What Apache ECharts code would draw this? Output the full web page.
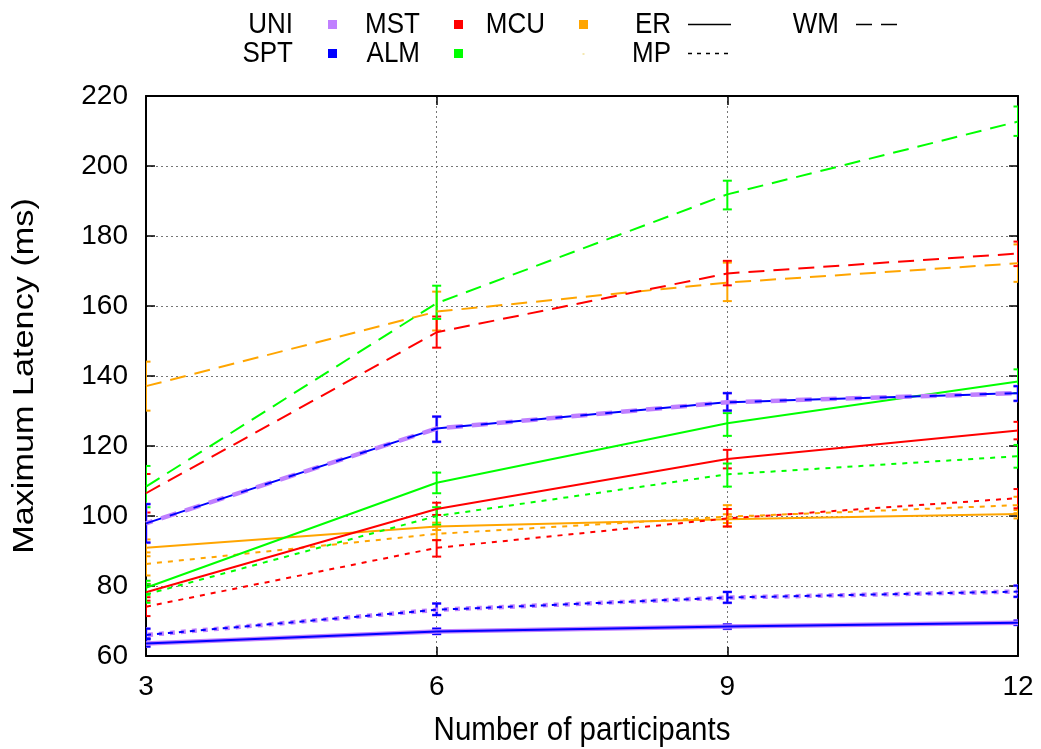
<!DOCTYPE html>
<html>
<head>
<meta charset="utf-8">
<script src="https://cdn.jsdelivr.net/npm/echarts@6/dist/echarts.min.js"></script>
<style>
html,body{margin:0;padding:0;background:#fff;}
#chart{width:1041px;height:749px;}
</style>
</head>
<body>
<div id="chart"></div>
<script>
// ---- data ----
const participants = [3, 6, 9, 12];
const xTicks = [3, 6, 9, 12];
const yTicks = [60, 80, 100, 120, 140, 160, 180, 200, 220];
const xTitle = 'Number of participants';
const yTitle = 'Maximum Latency (ms)';

const algorithms = ['UNI', 'SPT', 'MST', 'ALM', 'MCU'];
const modes = ['ER', 'WM', 'MP'];

// ER (solid)
const UNI_ER = [63.6, 67.0, 68.4, 69.5];
const SPT_ER = [63.6, 67.0, 68.4, 69.5];
const MST_ER = [78.2, 102.0, 116.3, 124.4];
const ALM_ER = [79.5, 109.5, 126.5, 138.4];
const MCU_ER = [90.9, 97.0, 99.1, 100.6];
const UNI_ER_err = [[62.7, 64.8], [66.3, 67.8], [67.8, 69.0], [68.9, 70.1]];
const SPT_ER_err = [[62.7, 64.8], [66.3, 67.8], [67.8, 69.0], [68.9, 70.1]];
const MST_ER_err = [[75.8, 80.6], [100.3, 103.8], [113.6, 118.9], [121.9, 126.9]];
const ALM_ER_err = [[77.5, 81.5], [106.5, 112.4], [122.9, 129.4], [135.1, 141.9]];
const MCU_ER_err = [[88.5, 93.3], [96.0, 98.1], [98.0, 100.5], [99.3, 101.7]];

// WM (dashed)
const UNI_WM = [97.9, 125.0, 132.5, 135.1];
const SPT_WM = [97.9, 125.0, 132.5, 135.1];
const MST_WM = [106.5, 152.5, 169.3, 175.0];
const ALM_WM = [108.4, 160.8, 191.9, 212.7];
const MCU_WM = [137.1, 158.4, 166.7, 172.2];
const UNI_WM_err = [[92.4, 103.4], [121.2, 128.4], [130.1, 135.1], [132.9, 137.1]];
const SPT_WM_err = [[92.4, 103.4], [121.2, 128.4], [130.1, 135.1], [132.9, 137.1]];
const MST_WM_err = [[101.0, 112.0], [148.1, 157.0], [165.9, 172.9], [171.4, 178.4]];
const ALM_WM_err = [[102.5, 114.3], [156.3, 165.8], [187.6, 195.8], [208.6, 217.0]];
const MCU_WM_err = [[130.1, 144.1], [153.0, 164.1], [161.4, 172.4], [166.9, 177.6]];

// MP (dotted)
const UNI_MP = [66.0, 73.2, 76.7, 78.4];
const SPT_MP = [66.0, 73.2, 76.7, 78.4];
const MST_MP = [74.1, 90.9, 99.3, 105.1];
const ALM_MP = [77.6, 100.0, 111.9, 117.1];
const MCU_MP = [86.3, 94.9, 99.8, 103.1];
const UNI_MP_err = [[65.0, 67.8], [71.7, 75.0], [75.2, 78.3], [76.9, 80.1]];
const SPT_MP_err = [[65.0, 67.8], [71.7, 75.0], [75.2, 78.3], [76.9, 80.1]];
const MST_MP_err = [[71.4, 76.8], [88.4, 93.1], [97.0, 102.0], [102.2, 107.7]];
const ALM_MP_err = [[75.2, 80.5], [97.5, 102.5], [108.4, 115.0], [113.8, 120.3]];
const MCU_MP_err = [[83.0, 89.6], [93.1, 97.0], [97.0, 103.1], [100.8, 105.5]];

// ---- styling ----
const colors = {UNI: '#c080ff', SPT: '#0000ff', MST: '#ff0000', ALM: '#00ff00', MCU: '#ffa500'};
const dashes = {ER: 'solid', WM: [16, 9], MP: [5, 6]};
const FONT = '"Liberation Sans", Arial, Helvetica, sans-serif';

const values = {
  UNI: {ER: UNI_ER, WM: UNI_WM, MP: UNI_MP},
  SPT: {ER: SPT_ER, WM: SPT_WM, MP: SPT_MP},
  MST: {ER: MST_ER, WM: MST_WM, MP: MST_MP},
  ALM: {ER: ALM_ER, WM: ALM_WM, MP: ALM_MP},
  MCU: {ER: MCU_ER, WM: MCU_WM, MP: MCU_MP}
};
const errs = {
  UNI: {ER: UNI_ER_err, WM: UNI_WM_err, MP: UNI_MP_err},
  SPT: {ER: SPT_ER_err, WM: SPT_WM_err, MP: SPT_MP_err},
  MST: {ER: MST_ER_err, WM: MST_WM_err, MP: MST_MP_err},
  ALM: {ER: ALM_ER_err, WM: ALM_WM_err, MP: ALM_MP_err},
  MCU: {ER: MCU_ER_err, WM: MCU_WM_err, MP: MCU_MP_err}
};

const drawOrder = ['MCU', 'MST', 'ALM', 'UNI', 'SPT'];
const series = [];
drawOrder.forEach(function (alg) {
  modes.forEach(function (m) {
    const c = colors[alg];
    const isUni = alg === 'UNI';
    const w = isUni ? 4.5 : 2;
    series.push({
      name: alg + ' ' + m,
      type: 'line',
      data: participants.map(function (x, i) { return [x, values[alg][m][i]]; }),
      symbol: 'none',
      clip: true,
      lineStyle: {color: c, width: w, type: dashes[m], dashOffset: isUni ? 9 : 0, cap: 'butt'},
      z: 3
    });
    series.push({
      name: alg + ' ' + m + ' err',
      type: 'custom',
      clip: true,
      z: 3,
      data: participants.map(function (x, i) { return [x, errs[alg][m][i][0], errs[alg][m][i][1]]; }),
      renderItem: function (params, api) {
        const lo = api.coord([api.value(0), api.value(1)]);
        const hi = api.coord([api.value(0), api.value(2)]);
        const hw = 4.5;
        const st = {stroke: c, lineWidth: isUni ? 3 : 2, fill: 'none'};
        return {
          type: 'group',
          children: [
            {type: 'line', shape: {x1: lo[0], y1: lo[1], x2: hi[0], y2: hi[1]}, style: st},
            {type: 'line', shape: {x1: lo[0] - hw, y1: lo[1], x2: lo[0] + hw, y2: lo[1]}, style: st},
            {type: 'line', shape: {x1: hi[0] - hw, y1: hi[1], x2: hi[0] + hw, y2: hi[1]}, style: st}
          ]
        };
      }
    });
  });
});

// ---- legend (gnuplot-style key, label then sample) + axis titles ----
const G = [];
function keyText(txt, rightX, y) {
  G.push({type: 'text', x: rightX, y: y, scaleY: 1.12,
    style: {text: txt, font: '26px ' + FONT, fill: '#000', textAlign: 'right', textVerticalAlign: 'middle'}});
}
function keySquare(col, cx, cy) {
  G.push({type: 'rect', shape: {x: cx - 4.5, y: cy - 4.5, width: 9, height: 9}, style: {fill: col}});
}
function keyLine(dash, x1, x2, y) {
  G.push({type: 'line', shape: {x1: x1, y1: y, x2: x2, y2: y},
    style: {stroke: '#000', lineWidth: 1.5, lineDash: dash === 'solid' ? null : dash}});
}
keyText('UNI', 293, 25); keySquare(colors.UNI, 332.5, 24.5);
keyText('MST', 420, 25); keySquare(colors.MST, 458.5, 24.5);
keyText('MCU', 545, 25); keySquare(colors.MCU, 583.5, 24.5);
keyText('ER', 671, 25); keyLine('solid', 688, 731, 24.5);
keyText('WM', 839, 25); keyLine([16, 9], 856, 901, 24.5);
keyText('SPT', 293, 54); keySquare(colors.SPT, 332.5, 53.5);
keyText('ALM', 420, 54); keySquare(colors.ALM, 458.5, 53.5);
G.push({type: 'rect', shape: {x: 582.5, y: 53.5, width: 2, height: 1}, style: {fill: '#e8d060'}});
keyText('MP', 671, 54); keyLine([4, 5], 688, 731, 53.5);

// axis titles
G.push({type: 'text', x: 582, y: 731, scaleY: 1.12,
  style: {text: xTitle, font: '29.5px ' + FONT, fill: '#000', textAlign: 'center', textVerticalAlign: 'middle'}});
G.push({type: 'text', x: 25, y: 376, rotation: Math.PI / 2, scaleX: 1.16,
  style: {text: yTitle, font: '29.5px ' + FONT, fill: '#000', textAlign: 'center', textVerticalAlign: 'middle'}});

const axisCommon = {
  type: 'value',
  axisLine: {show: true, onZero: false, lineStyle: {color: '#000', width: 2}},
  axisTick: {show: true, inside: true, length: 9, lineStyle: {color: '#000', width: 1.5}},
  splitLine: {show: false}
};

const option = {
  animation: false,
  backgroundColor: '#fff',
  grid: {left: 146, right: 23, top: 96, bottom: 93, containLabel: false},
  xAxis: [
    Object.assign({}, axisCommon, {
      position: 'bottom', min: xTicks[0], max: xTicks[xTicks.length - 1], interval: 3,
      axisLabel: {margin: 17, fontFamily: FONT, fontSize: 28, color: '#000'},
      splitLine: {show: true, lineStyle: {color: '#777', width: 1, type: [2, 3]}}
    }),
    Object.assign({}, axisCommon, {
      position: 'top', min: xTicks[0], max: xTicks[xTicks.length - 1], interval: 3,
      axisLabel: {show: false}
    })
  ],
  yAxis: [
    Object.assign({}, axisCommon, {
      position: 'left', min: yTicks[0], max: yTicks[yTicks.length - 1], interval: 20,
      axisLabel: {margin: 18, fontFamily: FONT, fontSize: 28, color: '#000'},
      splitLine: {show: true, lineStyle: {color: '#777', width: 1, type: [2, 3]}}
    }),
    Object.assign({}, axisCommon, {
      position: 'right', min: yTicks[0], max: yTicks[yTicks.length - 1], interval: 20,
      axisLabel: {show: false}
    })
  ],
  series: series,
  graphic: G
};

const chart = echarts.init(document.getElementById('chart'), null, {renderer: 'canvas'});
chart.setOption(option);
</script>
</body>
</html>
